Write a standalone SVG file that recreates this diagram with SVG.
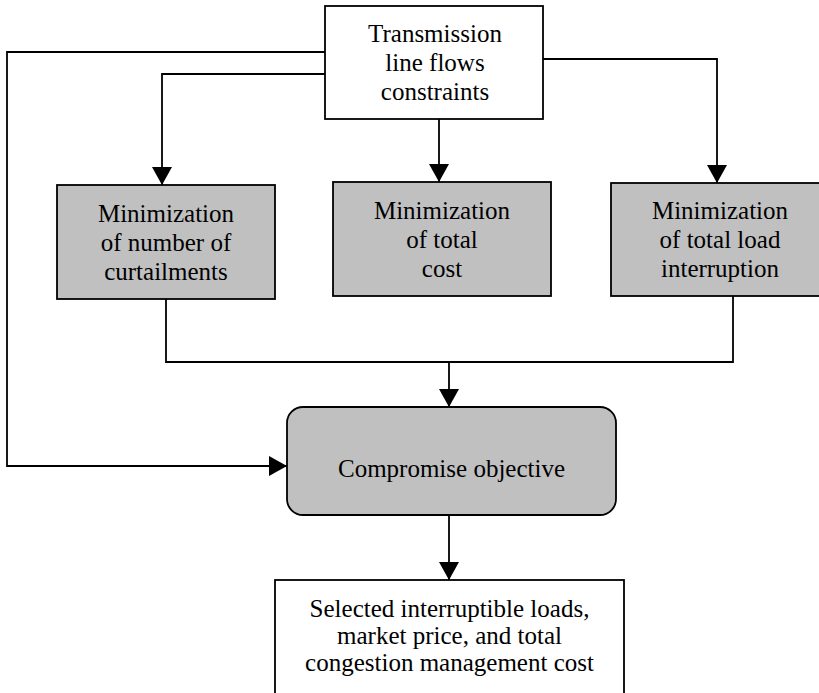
<svg xmlns="http://www.w3.org/2000/svg" width="819" height="693" viewBox="0 0 819 693">
<style>
.box{fill:#ffffff;stroke:#000;stroke-width:1.8}
.gbox{fill:#c0c0c0;stroke:#000;stroke-width:1.8}
.t{font-family:"Liberation Serif","Times New Roman",serif;font-size:25px;fill:#000;text-anchor:middle}
.c{fill:none;stroke:#000;stroke-width:1.8}
</style>
<defs>
<marker id="ah" markerUnits="userSpaceOnUse" markerWidth="20" markerHeight="20" viewBox="0 0 18 20" refX="18" refY="10" orient="auto">
<path d="M0,0 L18,10 L0,20 Z" fill="#000"/>
</marker>
</defs>
<rect width="819" height="693" fill="#fff"/>
<g id="connectors">
<path class="c" d="M325,52 H7 V466 H287" marker-end="url(#ah)"/>
<path class="c" d="M325,74 H162 V185" marker-end="url(#ah)"/>
<path class="c" d="M439,119 V182" marker-end="url(#ah)"/>
<path class="c" d="M543,59 H717 V183" marker-end="url(#ah)"/>
<path class="c" d="M166,299 V362 H733 V296"/>
<path class="c" d="M449,362 V407" marker-end="url(#ah)"/>
<path class="c" d="M449,515 V580" marker-end="url(#ah)"/>
</g>
<g id="n-transmission">
<rect class="box" x="325" y="6" width="218" height="113"/>
<text class="t" x="435" y="42">Transmission</text>
<text class="t" x="435" y="71">line flows</text>
<text class="t" x="435" y="100">constraints</text>
</g>
<g id="n-curtailments">
<rect class="gbox" x="57" y="185" width="218" height="114"/>
<text class="t" x="166" y="222">Minimization</text>
<text class="t" x="166" y="251">of number of</text>
<text class="t" x="166" y="280">curtailments</text>
</g>
<g id="n-cost">
<rect class="gbox" x="333" y="182" width="218" height="114"/>
<text class="t" x="442" y="219">Minimization</text>
<text class="t" x="442" y="248">of total</text>
<text class="t" x="442" y="277">cost</text>
</g>
<g id="n-interruption">
<rect class="gbox" x="611" y="183" width="218" height="113"/>
<text class="t" x="720" y="219">Minimization</text>
<text class="t" x="720" y="248">of total load</text>
<text class="t" x="720" y="277">interruption</text>
</g>
<g id="n-compromise">
<rect class="gbox" x="287" y="407" width="329" height="108" rx="16" ry="16"/>
<text class="t" x="451.5" y="477">Compromise objective</text>
</g>
<g id="n-selected">
<rect class="box" x="275" y="580" width="349" height="125"/>
<text class="t" x="449.5" y="617">Selected interruptible loads,</text>
<text class="t" x="449.5" y="644">market price, and total</text>
<text class="t" x="449.5" y="671">congestion management cost</text>
</g>
</svg>
